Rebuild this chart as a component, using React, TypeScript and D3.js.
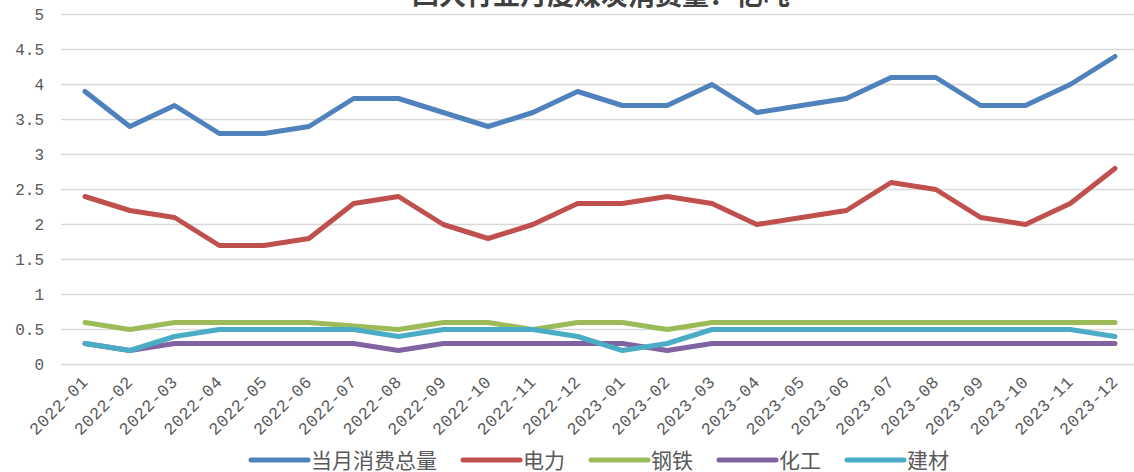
import React from "react";
import * as d3 from "d3";

// months on the x axis
const months = [
  "2022-01", "2022-02", "2022-03", "2022-04", "2022-05", "2022-06",
  "2022-07", "2022-08", "2022-09", "2022-10", "2022-11", "2022-12",
  "2023-01", "2023-02", "2023-03", "2023-04", "2023-05", "2023-06",
  "2023-07", "2023-08", "2023-09", "2023-10", "2023-11", "2023-12",
];

const totalUse = [3.9, 3.4, 3.7, 3.3, 3.3, 3.4, 3.8, 3.8, 3.6, 3.4, 3.6, 3.9, 3.7, 3.7, 4.0, 3.6, 3.7, 3.8, 4.1, 4.1, 3.7, 3.7, 4.0, 4.4];
const power = [2.4, 2.2, 2.1, 1.7, 1.7, 1.8, 2.3, 2.4, 2.0, 1.8, 2.0, 2.3, 2.3, 2.4, 2.3, 2.0, 2.1, 2.2, 2.6, 2.5, 2.1, 2.0, 2.3, 2.8];
const steel = [0.6, 0.5, 0.6, 0.6, 0.6, 0.6, 0.55, 0.5, 0.6, 0.6, 0.5, 0.6, 0.6, 0.5, 0.6, 0.6, 0.6, 0.6, 0.6, 0.6, 0.6, 0.6, 0.6, 0.6];
const chemical = [0.3, 0.2, 0.3, 0.3, 0.3, 0.3, 0.3, 0.2, 0.3, 0.3, 0.3, 0.3, 0.3, 0.2, 0.3, 0.3, 0.3, 0.3, 0.3, 0.3, 0.3, 0.3, 0.3, 0.3];
const building = [0.3, 0.2, 0.4, 0.5, 0.5, 0.5, 0.5, 0.4, 0.5, 0.5, 0.5, 0.4, 0.2, 0.3, 0.5, 0.5, 0.5, 0.5, 0.5, 0.5, 0.5, 0.5, 0.5, 0.4];

const yTicks = [0, 0.5, 1, 1.5, 2, 2.5, 3, 3.5, 4, 4.5, 5];

const series = [
  { name: "当月消费总量", values: totalUse, color: "#4F81BD" },
  { name: "电力", values: power, color: "#C0504D" },
  { name: "钢铁", values: steel, color: "#9BBB59" },
  { name: "化工", values: chemical, color: "#8064A2" },
  { name: "建材", values: building, color: "#4BACC6" },
];

const title = "四大行业月度煤炭消费量：亿吨";

const width = 1134;
const height = 472;
const gridLeft = 61;
const gridRight = 1134;
const cjk = "'Noto Sans CJK SC', sans-serif";
const mono = "'Liberation Mono', monospace";

export default function App() {
  const x = d3.scalePoint<string>().domain(months).range([85, 1115]);
  const y = d3.scaleLinear().domain([0, 5]).range([364.5, 14.5]);

  const line = d3
    .line<number>()
    .x((_, i) => x(months[i]) ?? 0)
    .y((d) => y(d));

  // legend layout
  const legendFont = 21;
  const swatch = 57;
  const gap = 26;
  const itemWidths = series.map((s) => swatch + 3 + s.name.length * legendFont);
  const legendTotal = d3.sum(itemWidths) + gap * (series.length - 1);
  let lx = 600 - legendTotal / 2;
  const legendY = 460;

  return (
    <svg
      width={width}
      height={height}
      style={{ position: "absolute", left: 0, top: 0, background: "#fff" }}
    >
      {/* gridlines */}
      {yTicks.map((t) => (
        <line
          key={t}
          x1={gridLeft}
          x2={gridRight}
          y1={y(t)}
          y2={y(t)}
          stroke="#d9d9d9"
          strokeWidth={1.5}
        />
      ))}
      {yTicks.map((t) => (
        <text
          key={"l" + t}
          x={44}
          y={y(t)}
          dy="0.35em"
          textAnchor="end"
          fontFamily={mono}
          fontSize={16}
          fill="#595959"
        >
          {String(t)}
        </text>
      ))}

      {/* x labels */}
      {months.map((m) => (
        <text
          key={m}
          transform={`translate(${(x(m) ?? 0) + 4},${383}) rotate(-45)`}
          textAnchor="end"
          fontFamily={mono}
          fontSize={17}
          letterSpacing={0.5}
          fill="#595959"
        >
          {m}
        </text>
      ))}

      {/* lines */}
      {series.map((s) => (
        <path
          key={s.name}
          d={line(s.values) ?? ""}
          fill="none"
          stroke={s.color}
          strokeWidth={5}
          strokeLinecap="round"
          strokeLinejoin="round"
        />
      ))}

      {/* title, cut off at the top as in the reference */}
      <text
        x={601}
        y={5}
        textAnchor="middle"
        fontFamily={cjk}
        fontSize={27}
        fontWeight="bold"
        fill="#404040"
      >
        {title}
      </text>

      {/* legend */}
      {series.map((s, i) => {
        const x0 = lx;
        lx += itemWidths[i] + gap;
        return (
          <g key={"lg" + s.name}>
            <line
              x1={x0}
              x2={x0 + swatch}
              y1={legendY}
              y2={legendY}
              stroke={s.color}
              strokeWidth={5}
              strokeLinecap="round"
            />
            <text
              x={x0 + swatch + 3}
              y={legendY}
              dy="0.36em"
              fontFamily={cjk}
              fontSize={legendFont}
              fill="#595959"
            >
              {s.name}
            </text>
          </g>
        );
      })}
    </svg>
  );
}
